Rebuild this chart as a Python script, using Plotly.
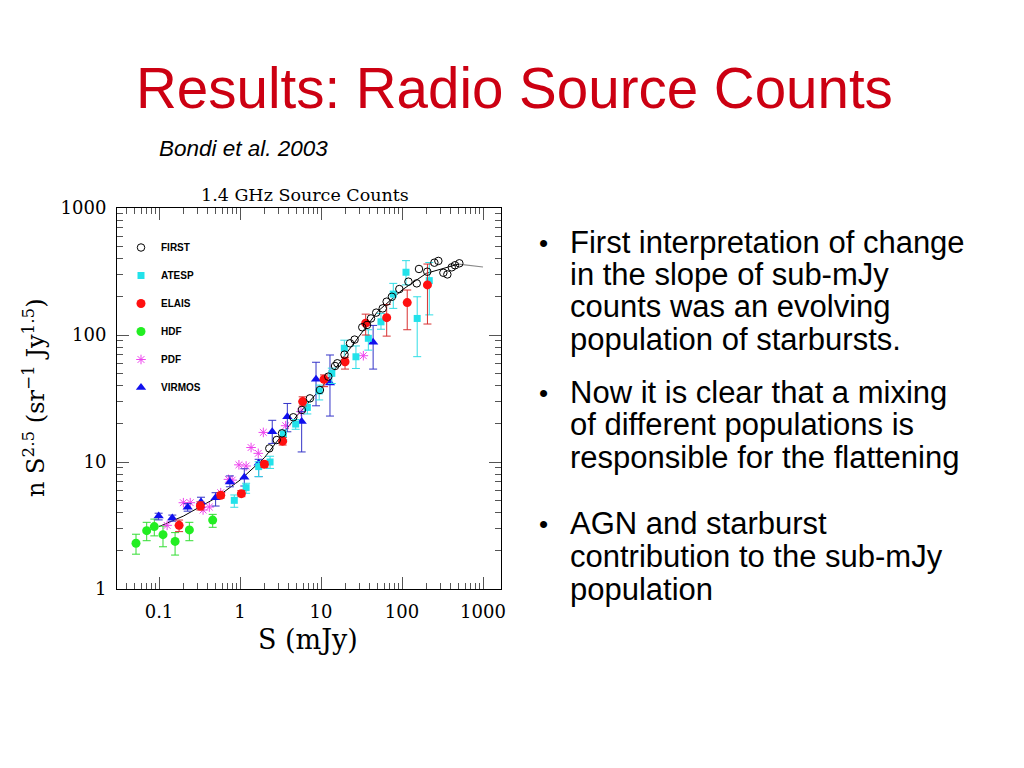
import plotly.graph_objects as go

# ---------------- data ----------------
first_S = [2.3, 2.84, 3.3, 4.55, 5.8, 7.3, 9.7, 12.3, 14.9, 15.9, 19.5, 22.8, 26, 32.3, 37,
           41.4, 48, 57.8, 64.6, 75, 92.7, 120, 152, 162, 205, 251, 281, 324, 363, 411, 451, 510]
first_N = [12.8, 14.9, 16.8, 22.5, 25.7, 31.7, 36.9, 47, 57, 59.9, 70, 86, 92, 115, 120,
           135, 150, 162, 183, 200, 230, 263, 255, 331, 315, 371, 383, 309, 300, 341, 354, 367]

atesp_S = [0.85, 1.19, 1.7, 2.35, 3.43, 4.87, 6.78, 9.5, 13.6, 19.4, 27, 38.4, 55, 78, 112, 154, 217]
atesp_N = [4.99, 6.28, 9.2, 10.0, 16.5, 19.9, 26.9, 36.3, 49.9, 78.6, 67.4, 94.2, 127, 210, 312, 135, 268]
atesp_hi = [5.5, 6.8, 10.05, 11.1, 17.9, 21.6, 29.9, 40.3, 54.8, 91, 82, 110, 148, 255, 385, 200, 372]
atesp_lo = [4.4, 5.67, 7.67, 8.9, 14.9, 18.1, 23.9, 30.8, 41.5, 63.5, 54.5, 76, 111, 162, 248, 67.5, 144]

elais_S = [0.177, 0.324, 0.578, 1.04, 2.0, 3.36, 5.94, 10.9, 19.8, 35.6, 64.7, 116, 206]
elais_N = [3.17, 4.5, 5.47, 5.63, 9.6, 14.6, 29.9, 44.8, 61.6, 124, 137, 180, 248]
elais_hi = [3.49, 4.86, 5.75, 5.95, 10.1, 15.6, 32.6, 48.5, 66.8, 146, 174, 226, 362]
elais_lo = [2.83, 4.19, 5.2, 5.33, 9.1, 13.6, 27.6, 39.2, 53.9, 100, 98, 110, 122]

hdf_S = [0.052, 0.0705, 0.0875, 0.112, 0.158, 0.237, 0.46]
hdf_N = [2.29, 2.88, 3.1, 2.68, 2.37, 2.92, 3.49]
hdf_hi = [2.7, 3.35, 3.55, 3.13, 2.78, 3.35, 3.87]
hdf_lo = [1.88, 2.4, 2.62, 2.15, 1.85, 2.4, 3.06]

pdf_S = [0.126, 0.2, 0.243, 0.35, 0.418, 0.578, 0.72, 0.8, 0.97, 1.19, 1.37, 1.68, 1.94, 3.66, 5.66, 33.3]
pdf_N = [3.17, 4.78, 4.78, 4.19, 4.42, 5.73, 7.3, 7.2, 9.5, 9.3, 13, 11.7, 17.1, 19.3, 24.9, 68.7]

virmos_S = [0.099, 0.146, 0.226, 0.33, 0.5, 0.75, 1.13, 1.7, 2.5, 3.84, 5.77, 8.68, 12.9, 44]
virmos_N = [3.76, 3.62, 4.4, 4.84, 5.24, 6.96, 7.58, 9.77, 17.3, 22.7, 20.8, 44.8, 41.9, 87.7]
virmos_hi = [3.95, 3.82, 4.7, 5.28, 5.73, 7.77, 8.85, 10.5, 21.3, 28.9, 24.9, 61, 69.6, 119]
virmos_lo = [3.5, 3.42, 4.1, 4.4, 4.5, 6.38, 6.47, 7.67, 14.0, 17.3, 12.0, 27.7, 23, 53.9]

model_S = [0.1, 0.2, 0.5, 1, 2, 5, 10, 20, 50, 100, 200, 500]
model_N = [3.1, 3.75, 5.2, 7.2, 10.8, 23, 38, 70, 153, 226, 306, 362]
tail_S = [500, 700, 1000]
tail_N = [362, 352, 343]

x_tickvals = [0.1, 1, 10, 100, 1000]
x_ticktext = ["0.1", "1", "10", "100", "1000"]
y_tickvals = [1, 10, 100, 1000]
y_ticktext = ["1", "10", "100", "1000"]

bullets = [
    ["First interpretation of change", "in the slope of sub-mJy",
     "counts was an evolving", "population of starbursts."],
    ["Now it is clear that a mixing", "of different populations is",
     "responsible for the flattening"],
    ["AGN and starburst", "contribution to the sub-mJy", "population"],
]
bullet_baselines = [[253, 285, 317, 350], [403, 435, 468], [534, 567, 600]]

# ---------------- figure ----------------
W, H = 1024, 768
def py(px):  # pixel row -> paper y
    return 1 - px / H
def pxx(px):
    return px / W

SERIF = "DejaVu Serif"
SANS = "Liberation Sans"
BODY = 31

def errs(N, hi, lo):
    return dict(type="data", symmetric=False,
                array=[h - n for h, n in zip(hi, N)],
                arrayminus=[n - l for n, l in zip(N, lo)])

fig = go.Figure()
fig.add_trace(go.Scatter(x=model_S, y=model_N, mode="lines",
                         line=dict(color="black", width=1), showlegend=False, hoverinfo="skip"))
fig.add_trace(go.Scatter(x=tail_S, y=tail_N, mode="lines",
                         line=dict(color="#888888", width=1.2), showlegend=False, hoverinfo="skip"))

fig.add_trace(go.Scatter(x=hdf_S, y=hdf_N, mode="markers", name="HDF", legendrank=4, legendgroup="g4",
                         marker=dict(symbol="circle", size=9, color="#22ee22"),
                         error_y=dict(**errs(hdf_N, hdf_hi, hdf_lo), color="#33dd33", thickness=1, width=4)))
fig.add_trace(go.Scatter(x=pdf_S, y=pdf_N, mode="markers", name="PDF", legendrank=5, legendgroup="g5",
                         marker=dict(symbol="asterisk-open", size=8, color="#ee44ee",
                                     line=dict(width=1, color="#ee44ee"))))
fig.add_trace(go.Scatter(x=virmos_S, y=virmos_N, mode="markers", name="VIRMOS", legendrank=6, legendgroup="g6",
                         marker=dict(symbol="triangle-up", size=9, color="#1010ee"),
                         error_y=dict(**errs(virmos_N, virmos_hi, virmos_lo), color="#3535c8", thickness=1, width=4)))
fig.add_trace(go.Scatter(x=atesp_S, y=atesp_N, mode="markers", name="ATESP", legendrank=2, legendgroup="g2",
                         marker=dict(symbol="square", size=7, color="#22e2ea"),
                         error_y=dict(**errs(atesp_N, atesp_hi, atesp_lo), color="#30dde5", thickness=1, width=4)))
fig.add_trace(go.Scatter(x=elais_S, y=elais_N, mode="markers", name="ELAIS", legendrank=3, legendgroup="g3",
                         marker=dict(symbol="circle", size=9, color="#ff1010"),
                         error_y=dict(**errs(elais_N, elais_hi, elais_lo), color="#d83030", thickness=1, width=4)))
fig.add_trace(go.Scatter(x=first_S, y=first_N, mode="markers", name="FIRST", legendrank=1, legendgroup="g1",
                         marker=dict(symbol="circle-open", size=7.5, color="black", line=dict(width=1, color="black"))))

minor_vals = [k * 10 ** e for e in range(-2, 4) for k in range(2, 10)]

axis_common = dict(type="log", showgrid=False, zeroline=False, showline=True, linecolor="black", linewidth=1,
                   automargin=False,
                   ticks="inside", ticklen=12, tickcolor="#555555", tickwidth=1, mirror="allticks",
                   tickfont=dict(family=SERIF, size=18, color="black"), ticklabelstandoff=6,
                   minor=dict(ticks="inside", ticklen=6, tickcolor="#555555", tickwidth=1, tickvals=minor_vals,
                              showgrid=False))

fig.update_layout(
    width=W, height=H, autosize=False, paper_bgcolor="white", plot_bgcolor="white",
    margin=dict(l=0, r=0, t=0, b=0, pad=0, autoexpand=False),
    xaxis=dict(**axis_common, range=[-1.5185, 3.222], domain=[pxx(117), pxx(501)],
               tickmode="array", tickvals=x_tickvals, ticktext=x_ticktext),
    yaxis=dict(**axis_common, range=[0, 3], domain=[py(589), py(208)],
               tickmode="array", tickvals=y_tickvals, ticktext=y_ticktext),
    showlegend=True,
    legend=dict(x=pxx(121), y=py(233), xanchor="left", yanchor="top", bgcolor="rgba(0,0,0,0)",
                font=dict(family=SANS, size=10, color="black", weight="bold"),
                tracegroupgap=9, itemclick=False),
)

ann = []
ann.append(dict(text="Results: Radio Source Counts", x=pxx(514), y=py(89), xanchor="center", yanchor="middle",
                font=dict(family=SANS, size=56.5, color="#cc0012"), showarrow=False))
ann.append(dict(text="<i>Bondi et al. 2003</i>", x=pxx(157), y=py(149), xanchor="left", yanchor="middle",
                font=dict(family=SANS, size=22.5, color="black"), showarrow=False))
ann.append(dict(text="1.4 GHz Source Counts", x=pxx(305), y=py(195), xanchor="center", yanchor="middle",
                font=dict(family=SERIF, size=17.5, color="black"), showarrow=False))
ann.append(dict(text="S (mJy)", x=pxx(308), y=py(639), xanchor="center", yanchor="middle",
                font=dict(family=SERIF, size=27, color="black"), showarrow=False))
ann.append(dict(text="n S<sup>2.5</sup> (sr<sup>\u22121</sup> Jy<sup>1.5</sup>)", x=pxx(34), y=py(398),
                xanchor="center", yanchor="middle", textangle=-90,
                font=dict(family=SERIF, size=24, color="black"), showarrow=False))
for lines, bases in zip(bullets, bullet_baselines):
    ann.append(dict(text="\u2022", x=pxx(543), y=py(bases[0] - 10), xanchor="center", yanchor="middle",
                    font=dict(family=SANS, size=26, color="black"), showarrow=False))
    for t, b in zip(lines, bases):
        ann.append(dict(text=t, x=pxx(568), y=py(b - 0.3465 * BODY), xanchor="left", yanchor="middle",
                        font=dict(family=SANS, size=BODY, color="black"), showarrow=False))
for a in ann:
    a.update(xref="paper", yref="paper")
fig.update_layout(annotations=ann)

fig.write_html("out.html", config={"displayModeBar": False},
               post_script="document.body.style.margin='0';")
